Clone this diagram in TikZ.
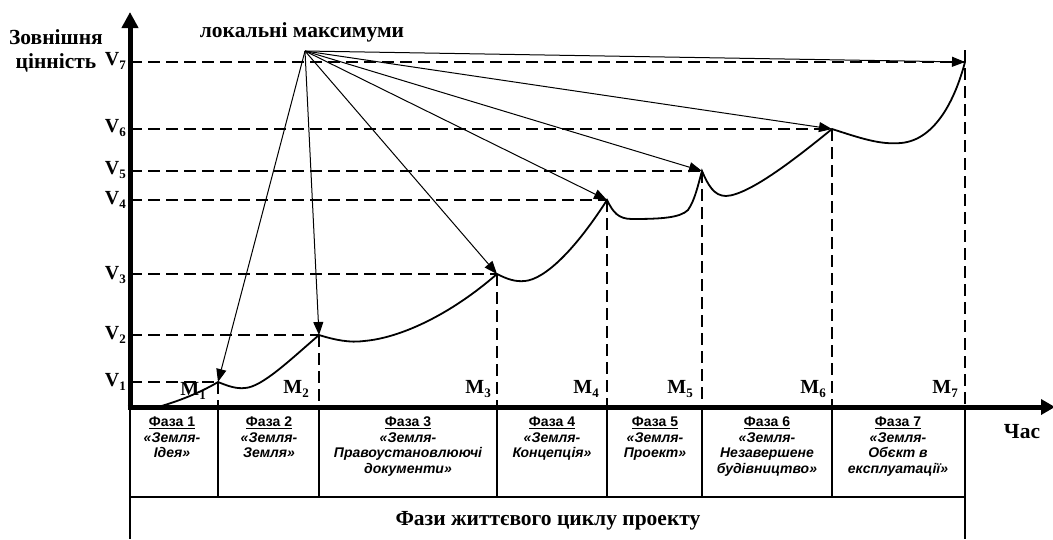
\documentclass[tikz,border=0pt]{standalone}
\usepackage{fontspec}
\setmainfont{Liberation Serif}
\newfontfamily\arfont{Liberation Sans}
\usetikzlibrary{arrows.meta}
\newcommand\subl[2]{#1{\fontsize{13}{13}\selectfont\raisebox{-3.5pt}{#2}}}
\begin{document}
\begin{tikzpicture}[x=1pt,y=-1pt,
  hdash/.style={line width=2pt, dash pattern=on 12pt off 6pt},
  vdash/.style={line width=1.3pt, dash pattern=on 12pt off 6pt},
  ptr/.style={line width=1pt, -{Triangle[length=13pt,width=10pt]}},
  curv/.style={line width=1.8pt},
  axis/.style={line width=5pt},
  cell/.style={line width=1.3pt},
  lbl/.style={font=\bfseries\fontsize{20}{20}\selectfont, inner sep=0pt},
  celltext/.style={font=\arfont\bfseries\itshape\fontsize{14}{15.5}\selectfont, align=center, anchor=north, inner sep=0pt},
  big/.style={font=\bfseries\fontsize{21.5}{24}\selectfont, inner sep=0pt, align=center}
]
\useasboundingbox (0,0) rectangle (1053,539);
% key points
\coordinate (A) at (305,51);
\coordinate (M1) at (218,382);
\coordinate (M2) at (319,335);
\coordinate (M3) at (497,274);
\coordinate (M4) at (607,200);
\coordinate (M5) at (702,171);
\coordinate (M6) at (832,129);
\coordinate (M7) at (965,62);
\coordinate (T7) at (965,50);
\coordinate (O) at (130,407);
\coordinate (Ytop) at (130,12);
\coordinate (Ybot) at (130,409.5);
\coordinate (Xbeg) at (127.5,407);
\coordinate (Xend) at (1055,407);
% horizontal dashed lines
\foreach \i in {1,...,7} {
  \draw[hdash] (M\i -| O) -- (M\i);
}
% vertical dashed lines
\foreach \i in {1,...,6} {
  \draw[vdash] (M\i) -- (M\i |- O);
}
\draw[vdash] (T7) -- (T7 |- O);
% curve
\draw[curv] (158,407) .. controls (183,400) and (205,390) .. (M1)
  .. controls (228,386) and (236,389) .. (245,388)
  .. controls (262,387) and (290,360) .. (M2)
  .. controls (335,340) and (350,343) .. (364,341)
  .. controls (400,338) and (450,315) .. (M3)
  .. controls (507,279) and (515,282) .. (525,281)
  .. controls (545,279) and (575,250) .. (M4)
  .. controls (613,212) and (618,219) .. (632,219)
  .. controls (660,219) and (680,218) .. (688,210)
  .. controls (695,200) and (698,185) .. (M5)
  .. controls (708,185) and (714,196) .. (726,196)
  .. controls (750,195) and (800,155) .. (M6)
  .. controls (860,138) and (880,145) .. (901,143)
  .. controls (935,140) and (955,100) .. (M7);
% arrows from apex
\foreach \i in {1,...,7} {
  \draw[ptr] (A) -- (M\i);
}
% axes
\draw[axis, -{Triangle[length=16pt,width=16pt]}] (Ybot) -- (Ytop);
\draw[axis, -{Triangle[length=14pt,width=15pt]}] (Xbeg) -- (Xend);
% cells
\draw[cell] (130,407) -- (130,539);
\draw[cell] (965,407) -- (965,539);
\draw[cell] (130,497) -- (965,497);
\foreach \x in {218,319,497,607,702,832} {
  \draw[cell] (\x,407) -- (\x,497);
}
% labels
\node[big] (yl) at (56,51) {Зовнішня\\цінність};
\node[big] (lm) at (302,32) {локальні максимуми};
\node[lbl, anchor=east] (v7) at (126,61) {\subl{V}{7}};
\node[lbl, anchor=east] (v6) at (126,128) {\subl{V}{6}};
\node[lbl, anchor=east] (v5) at (126,170) {\subl{V}{5}};
\node[lbl, anchor=east] (v4) at (126,200) {\subl{V}{4}};
\node[lbl, anchor=east] (v3) at (126,275) {\subl{V}{3}};
\node[lbl, anchor=east] (v2) at (126,335) {\subl{V}{2}};
\node[lbl, anchor=east] (v1) at (126,382) {\subl{V}{1}};
\node[lbl, anchor=east] (m1) at (206,391) {\subl{M}{1}};
\node[lbl, anchor=east] (m2) at (309,389) {\subl{M}{2}};
\node[lbl, anchor=east] (m3) at (491,389) {\subl{M}{3}};
\node[lbl, anchor=east] (m4) at (599,389) {\subl{M}{4}};
\node[lbl, anchor=east] (m5) at (693,389) {\subl{M}{5}};
\node[lbl, anchor=east] (m6) at (826,389) {\subl{M}{6}};
\node[lbl, anchor=east] (m7) at (958,389) {\subl{M}{7}};
\node[big] (time) at (1022,432) {Час};
\node[big] (phases) at (548,521) {Фази життєвого циклу проекту};
% phase cells
\node[celltext] (p1) at (172,417) {{\upshape\underline{Фаза 1}}\\«Земля-\\Ідея»};
\node[celltext] (p2) at (269,417) {{\upshape\underline{Фаза 2}}\\«Земля-\\Земля»};
\node[celltext] (p3) at (408,417) {{\upshape\underline{Фаза 3}}\\«Земля-\\Правоустановлюючі\\документи»};
\node[celltext] (p4) at (552,417) {{\upshape\underline{Фаза 4}}\\«Земля-\\Концепція»};
\node[celltext] (p5) at (655,417) {{\upshape\underline{Фаза 5}}\\«Земля-\\Проект»};
\node[celltext] (p6) at (767,417) {{\upshape\underline{Фаза 6}}\\«Земля-\\Незавершене\\будівництво»};
\node[celltext] (p7) at (898,417) {{\upshape\underline{Фаза 7}}\\«Земля-\\Обєкт в\\експлуатації»};
\end{tikzpicture}
\end{document}
